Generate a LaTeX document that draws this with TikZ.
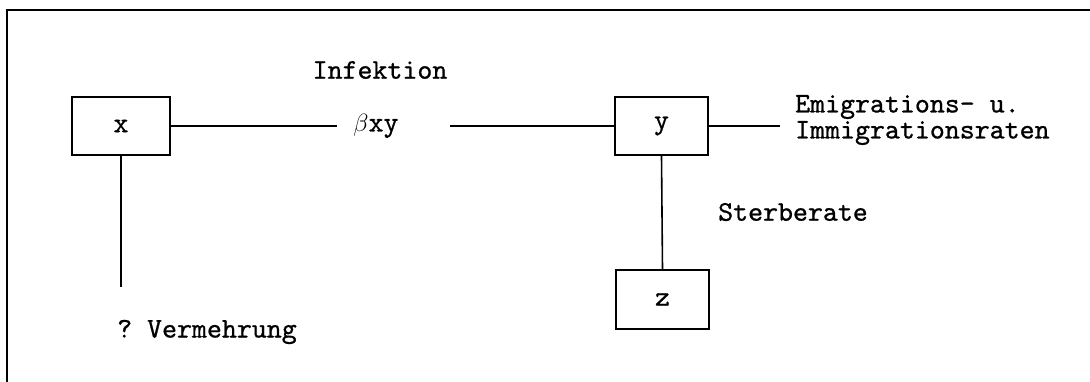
\documentclass[tikz,border=0pt]{standalone}
\usepackage{fontspec}
\setmonofont{lmmono10-regular.otf}[FakeBold=0.8]
\begin{document}
\begin{tikzpicture}[x=1pt,y=-1pt,
  every node/.style={font=\ttfamily\fontsize{28.5}{26}\selectfont, inner sep=0pt},
  compartment/.style={draw, line width=1.6pt, minimum height=58pt},
  link/.style={line width=1.6pt},
  frameline/.style={line width=1.4pt}]
  \useasboundingbox (0,0) rectangle (1090,382);

  % outer frame, open at right and bottom
  \draw[frameline] (1090,10) -- (7,10) -- (7,382);

  % compartments
  \node[compartment, minimum width=98pt] (x) at (121,126) {x};
  \node[compartment, minimum width=93pt] (y) at (661.5,126) {y};
  \node[compartment, minimum width=93pt, minimum height=59pt] (z) at (662.5,299.5) {z};

  % labels
  \node (inf) at (380,70) {Infektion};
  \node (bxy) at (376,126) {$\beta$xy};
  \coordinate (bl) at (337,126);
  \coordinate (br) at (450,126);
  \node[anchor=west, align=left] (emig) at (795,120) {Emigrations- u.\\Immigrationsraten};
  \coordinate (emigend) at (780,126);
  \node[anchor=west] (sterb) at (718,212) {Sterberate};
  \coordinate (xend) at (121,287);
  \node[anchor=west] (verm) at (117,332) {? Vermehrung};

  % connectors
  \draw[link] (x.east) -- (bl);
  \draw[link] (br) -- (y.west);
  \draw[link] (y.east) -- (emigend);
  \draw[link] (y.south) -- (z.north);
  \draw[link] (x.south) -- (xend);
\end{tikzpicture}
\end{document}
